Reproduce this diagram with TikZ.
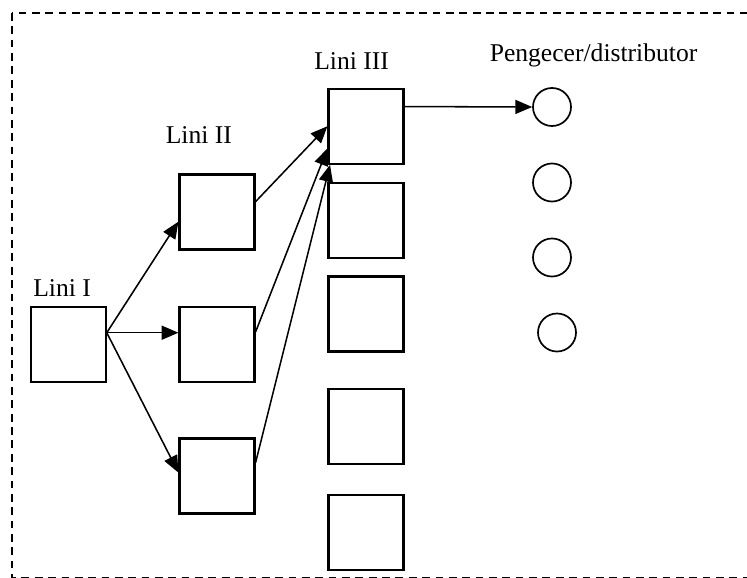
\documentclass[tikz,border=0pt]{standalone}
\usepackage{fontspec}
\setmainfont{Liberation Serif}
\usetikzlibrary{arrows.meta}

\begin{document}
\begin{tikzpicture}[x=0.025cm, y=-0.025cm,
		box/.style={draw, rectangle, line width=1.5pt, minimum size=1.875cm, inner sep=0pt},
		outlet/.style={draw, circle, line width=1.2pt, minimum size=0.95cm, inner sep=0pt},
		heading/.style={anchor=base west, inner sep=0pt, font=\fontsize{18.2}{22}\selectfont},
		flow/.style={-{Triangle[length=12pt,width=10pt]}, line width=1.1pt}]
		\useasboundingbox (0,0) rectangle (747,577);
		% Frame
		\draw[dashed, dash pattern=on 5.5pt off 4pt, line width=1.2pt] (12,13) rectangle (770,578);
		% Labels
		\node[heading] (t1) at (33,296.7) {Lini I};
		\node[heading] (t2) at (165.5,143) {Lini II};
		\node[heading] (t3) at (314,69.3) {Lini III};
		\node[heading] (t4) at (489.5,61.7) {Pengecer/distributor};
		% Nodes
		\node[box] (lini1) at (68.2,344.5) {};
		\node[box] (lini2a) at (217,212) {};
		\node[box] (lini2b) at (217,344.5) {};
		\node[box] (lini2c) at (217,476) {};
		\node[box] (lini3a) at (366,126.2) {};
		\node[box] (lini3b) at (366,220.2) {};
		\node[box] (lini3c) at (366,314) {};
		\node[box] (lini3d) at (366,426.8) {};
		\node[box] (lini3e) at (366,532.3) {};
		\node[outlet] (toko1) at (552,107) {};
		\node[outlet] (toko2) at (552,182.5) {};
		\node[outlet] (toko3) at (552,257.5) {};
		\node[outlet] (toko4) at (557,332.5) {};
		% Arrows
		\draw[flow] (lini1.17) -- (lini2a.194);
		\draw[flow] (lini1.17) -- (lini2b.163);
		\draw[flow] (lini1.17) -- (lini2c.175);
		\draw[flow] (lini2a.15) -- (lini3a.west);
		\draw[flow] (lini2b.18) -- (lini3a.210);
		\draw[flow] (lini2c.19) -- (lini3a.227);
		\draw[flow] (lini3a.27) -- (toko1.west);
	\end{tikzpicture}
\end{document}
